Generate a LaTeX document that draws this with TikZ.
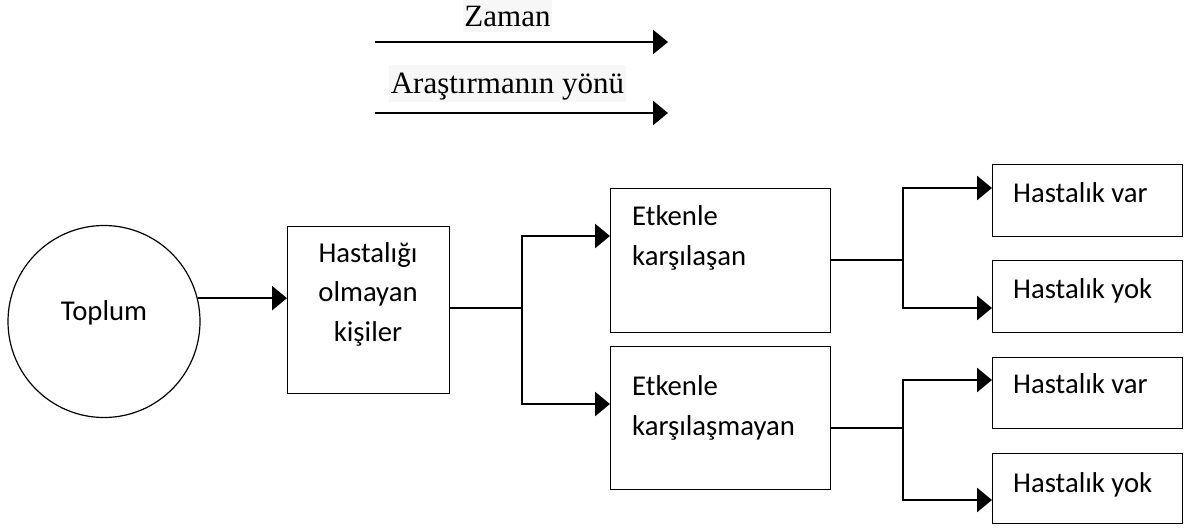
\documentclass[tikz,border=0pt]{standalone}
\usepackage{fontspec}
\setmainfont{Liberation Serif}
\newfontfamily\calfont{Carlito}
\usetikzlibrary{arrows.meta,calc}

\begin{document}
\begin{tikzpicture}[x=1pt,y=-1pt,
  box/.style={draw=black,line width=1.3pt,rectangle,inner sep=0pt,anchor=north west},
  circ/.style={draw=black,line width=1.2pt,circle,inner sep=0pt,minimum size=192pt},
  lbl/.style={font=\calfont\fontsize{28.7}{39.5}\selectfont,inner sep=0pt},
  serif/.style={font=\fontsize{31}{36}\selectfont,fill=black!3,inner xsep=1.5pt,inner ysep=0pt,
    text height=27pt,text depth=5pt,anchor=base},
  conn/.style={line width=2.6pt},
  arr/.style={line width=2.6pt,-{Triangle[length=15pt,width=24pt]}},
]
\useasboundingbox (0,0) rectangle (1185,527);

% time and research direction arrows
\node[serif] (zaman) at (507.5,27) {Zaman};
\coordinate (t1s) at (375,42);
\coordinate (t1e) at (668,42);
\draw[arr] (t1s) -- (t1e);
\node[serif,text height=28pt,text depth=9pt] (yon) at (507.5,93) {Araştırmanın yönü};
\coordinate (t2s) at (375,113);
\coordinate (t2e) at (668,113);
\draw[arr] (t2s) -- (t2e);

% population
\node[circ] (toplum) at (104,321.5) {};
\node[lbl,anchor=base] (toplumt) at (104,320) {Toplum};

% disease-free individuals (multi-line labels are anchored at their last baseline)
\node[box,minimum width=162pt,minimum height=167pt] (hb) at (287,226) {};
\node[lbl,anchor=base,align=center] (hbt) at (368,341) {Hastalığı\\olmayan\\kişiler};

% exposure groups
\node[box,minimum width=220pt,minimum height=144pt] (e1) at (610,188) {};
\node[lbl,anchor=base west,align=left] (e1t) at (632,265) {Etkenle\\karşılaşan};
\node[box,minimum width=220pt,minimum height=143pt] (e2) at (610,346) {};
\node[lbl,anchor=base west,align=left] (e2t) at (632,435) {Etkenle\\karşılaşmayan};

% outcomes
\node[box,minimum width=190pt,minimum height=72pt] (r1) at (992,164) {};
\node[lbl,anchor=base west] (r1t) at (1013,202) {Hastalık var};
\node[box,minimum width=190pt,minimum height=72pt] (r2) at (992,260) {};
\node[lbl,anchor=base west] (r2t) at (1013,298) {Hastalık yok};
\node[box,minimum width=190pt,minimum height=71pt] (r3) at (992,357) {};
\node[lbl,anchor=base west] (r3t) at (1013,393) {Hastalık var};
\node[box,minimum width=190pt,minimum height=70pt] (r4) at (992,453) {};
\node[lbl,anchor=base west] (r4t) at (1013,492) {Hastalık yok};

% connectors
\draw[arr] (toplum.14) -- (toplum.14 -| hb.west);

\coordinate (s1) at (hb.east |- 0,308);
\coordinate (j1) at (522,308);
\draw[conn] (s1) -- (j1);
\draw[arr] (j1) |- (e1.west |- 0,236);
\draw[arr] (j1) |- (e2.west |- 0,404);

\coordinate (s2) at (e1.east |- 0,260);
\coordinate (j2) at (903,260);
\draw[conn] (s2) -- (j2);
\draw[arr] (j2) |- (r1.west |- 0,188);
\draw[arr] (j2) |- (r2.west |- 0,308);

\coordinate (s3) at (e2.east |- 0,428);
\coordinate (j3) at (903,428);
\draw[conn] (s3) -- (j3);
\draw[arr] (j3) |- (r3.west |- 0,380);
\draw[arr] (j3) |- (r4.west |- 0,500);
\end{tikzpicture}
\end{document}
